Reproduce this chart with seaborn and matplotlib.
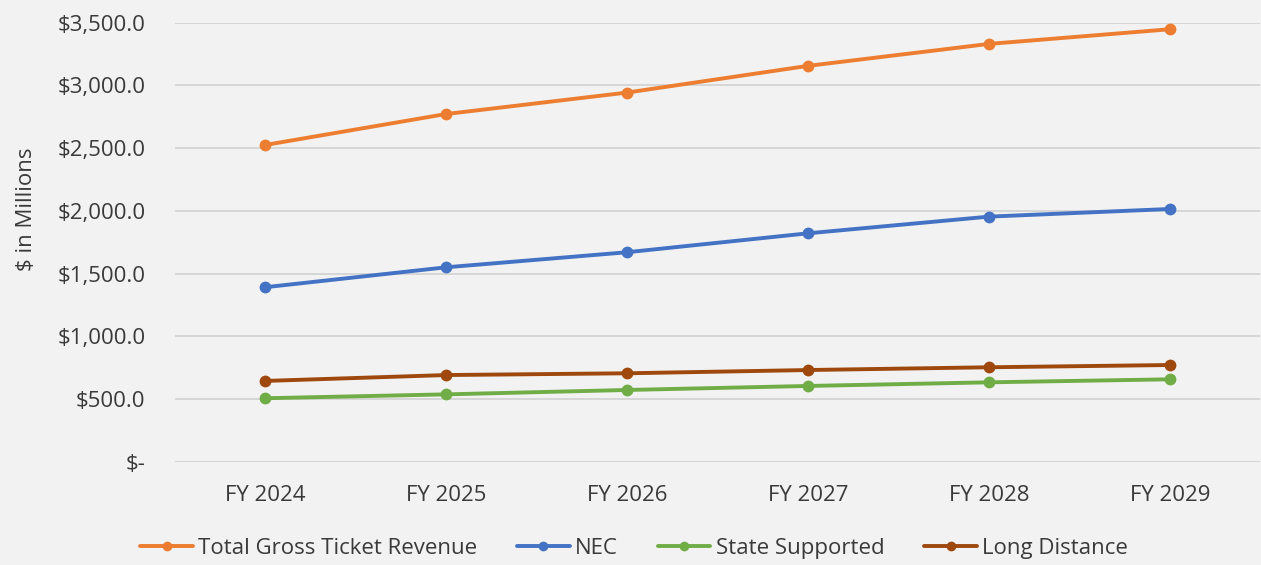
import matplotlib
matplotlib.use("Agg")
import matplotlib.pyplot as plt
import matplotlib.ticker as mticker
import seaborn as sns
import pandas as pd

years = ["FY 2024", "FY 2025", "FY 2026", "FY 2027", "FY 2028", "FY 2029"]
total_gross = [2525, 2772, 2943, 3156, 3331, 3448]
nec = [1391, 1550, 1670, 1821, 1954, 2015]
state_supported = [506, 537, 572, 604, 633, 657]
long_distance = [644, 691, 705, 731, 753, 771]

series_names = ["Total Gross Ticket Revenue", "NEC", "State Supported", "Long Distance"]
colors = ["#ED7D31", "#4472C4", "#70AD47", "#9E480E"]

df = pd.DataFrame({
    "year": years * 4,
    "value": total_gross + nec + state_supported + long_distance,
    "series": [s for s in series_names for _ in years],
})

bg = "#f1f2f1"
text_color = "#3a3a3a"
sns.set_theme(style="white")
plt.rcParams["font.family"] = ["Open Sans", "DejaVu Sans"]

fig = plt.figure(figsize=(12.61, 5.65), dpi=100, facecolor=bg)
ax = fig.add_axes([0.1384, 0.1828, 0.8612, 0.777])
ax.set_facecolor(bg)

sns.lineplot(
    data=df, x="year", y="value", hue="series", hue_order=series_names,
    palette=colors, marker="o", markersize=8.5, markeredgewidth=0,
    linewidth=2.8, ax=ax, sort=False,
)

ax.set_xlim(-0.5, 5.5)
ax.set_ylim(0, 3500)
ax.yaxis.set_major_locator(mticker.MultipleLocator(500))


def dollar(v, pos):
    if v == 0:
        return "$-"
    return f"${v:,.1f}"


ax.yaxis.set_major_formatter(mticker.FuncFormatter(dollar))
ax.grid(axis="y", color="#d6d6d6", linewidth=1.4)
ax.set_axisbelow(True)
for sp in ax.spines.values():
    sp.set_visible(False)
ax.tick_params(axis="both", length=0, labelsize=16, colors=text_color)
ax.tick_params(axis="y", pad=21)
ax.tick_params(axis="x", pad=17)
ax.set_xlabel("")
ax.set_ylabel("$ in Millions", fontsize=16, color=text_color)
ax.yaxis.set_label_coords(-0.127, 0.575)

handles, labels = ax.get_legend_handles_labels()
ax.get_legend().remove()
for h in handles:
    h.set_markersize(7)
leg = fig.legend(
    handles, labels, loc="center", bbox_to_anchor=(0.503, 0.029),
    ncol=4, frameon=False, fontsize=16, handlelength=2.35,
    handletextpad=0.25, columnspacing=1.8,
)
for t in leg.get_texts():
    t.set_color(text_color)

fig.savefig("out.png", dpi=100, facecolor=bg)
